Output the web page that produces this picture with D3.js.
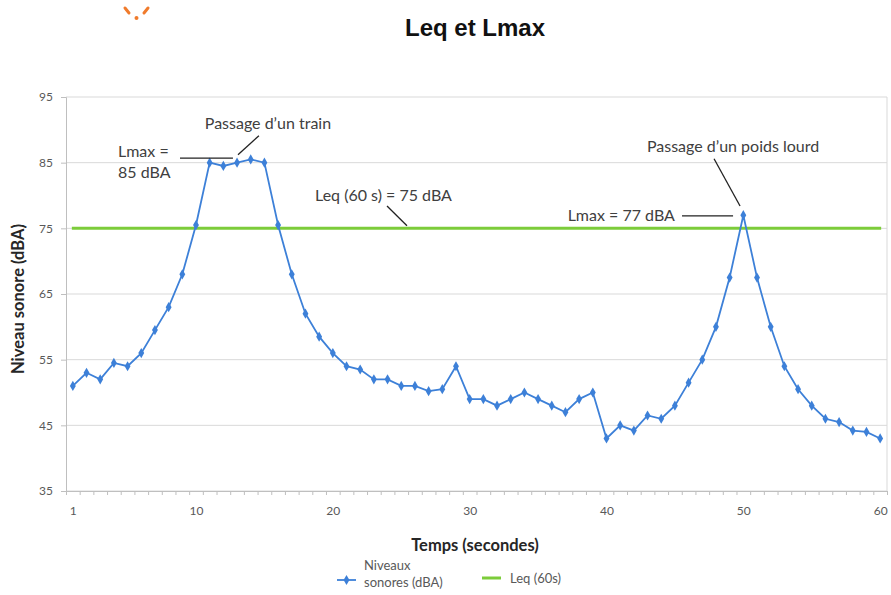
<!DOCTYPE html>
<html>
<head>
<meta charset="utf-8">
<script src="https://cdn.jsdelivr.net/npm/d3@7"></script>
<style>
  body { margin: 0; background: #fff; }
  svg { display: block; }
  .tick text { font-family: Lato, "Open Sans", sans-serif; font-size: 12px; fill: #595959; }
  .note { font-family: Lato, "Open Sans", sans-serif; font-size: 16px; fill: #404040; }
</style>
</head>
<body>
<div id="chart"></div>
<script>
// Leq et Lmax - niveaux sonores sur 60 s
const seconds = d3.range(1, 61);
const levels = [
  51, 53, 52, 54.5, 54, 56, 59.5, 63, 68, 75.5,
  85, 84.5, 85, 85.5, 85, 75.5, 68, 62, 58.5, 56,
  54, 53.5, 52, 52, 51, 51, 50.2, 50.5, 54, 49,
  49, 48, 49, 50, 49, 48, 47, 49, 50, 43,
  45, 44.2, 46.5, 46, 48, 51.5, 55, 60, 67.5, 77,
  67.5, 60, 54, 50.5, 48, 46, 45.5, 44.2, 44, 43
];
const leqValue = 75;
const yTicks = [35, 45, 55, 65, 75, 85, 95];
const xTickLabels = [1, 10, 20, 30, 40, 50, 60];

const width = 891, height = 595,
    margin = ({ top: 97, right: 4, bottom: 104, left: 66 });

const svg = d3.select("#chart")
    .append("svg")
    .attr("width", width)
    .attr("height", height);

let x = d3.scaleLinear()
    .domain([0.5, 60.5])
    .range([margin.left, width - margin.right]);

let y = d3.scaleLinear()
    .domain([35, 95])
    .range([height - margin.bottom, margin.top]);

// small orange logo top-left
svg.append("g")
    .attr("stroke", "#f07b2c")
    .attr("stroke-width", 3)
    .attr("stroke-linecap", "round")
    .selectAll("line")
    .data([[125, 8, 129, 13], [148, 8, 144, 13]])
    .join("line")
    .attr("x1", d => d[0]).attr("y1", d => d[1])
    .attr("x2", d => d[2]).attr("y2", d => d[3]);
svg.append("circle")
    .attr("cx", 136.5).attr("cy", 18).attr("r", 2)
    .attr("fill", "#f07b2c");

svg.append("text")
    .attr("x", 475)
    .attr("y", 36)
    .attr("text-anchor", "middle")
    .attr("font-family", "'Liberation Sans', Arial, sans-serif")
    .attr("font-weight", "bold")
    .attr("font-size", 24)
    .attr("fill", "#111")
    .text("Leq et Lmax");

// gridlines
svg.append("g")
    .selectAll("line")
    .data(yTicks)
    .join("line")
    .attr("x1", margin.left)
    .attr("x2", width - margin.right)
    .attr("y1", d => y(d))
    .attr("y2", d => y(d))
    .attr("stroke", "#d9d9d9");

// right border of plot area
svg.append("line")
    .attr("x1", width - margin.right).attr("x2", width - margin.right)
    .attr("y1", margin.top).attr("y2", height - margin.bottom)
    .attr("stroke", "#d9d9d9");

// y axis
const yAxis = svg.append("g")
    .attr("transform", `translate(${margin.left},0)`)
    .call(d3.axisLeft(y).tickValues(yTicks).tickSize(5).tickPadding(8));
yAxis.select(".domain").attr("stroke", "#bfbfbf");
yAxis.selectAll(".tick line").attr("stroke", "#bfbfbf");

// x axis: tick marks between categories, labels centred
const xAxis = svg.append("g")
    .attr("transform", `translate(0,${height - margin.bottom})`)
    .call(d3.axisBottom(x).tickValues(d3.range(0.5, 61, 1)).tickSize(4).tickFormat(""));
xAxis.select(".domain").attr("stroke", "#bfbfbf");
xAxis.selectAll(".tick line").attr("stroke", "#bfbfbf");

svg.append("g")
    .attr("transform", `translate(0,${height - margin.bottom})`)
    .call(d3.axisBottom(x).tickValues(xTickLabels).tickSize(0).tickPadding(15))
    .call(g => g.select(".domain").remove());

svg.append("text")
    .attr("text-anchor", "middle")
    .attr("x", 475)
    .attr("y", 551)
    .attr("font-family", "Lato, sans-serif")
    .attr("font-weight", "bold")
    .attr("font-size", 16.5)
    .attr("fill", "#262626")
    .text("Temps (secondes)");

svg.append("text")
    .attr("text-anchor", "middle")
    .attr("transform", `translate(24,${(margin.top + height - margin.bottom) / 2 + 5}) rotate(-90)`)
    .attr("font-family", "Lato, sans-serif")
    .attr("font-weight", "bold")
    .attr("font-size", 16.5)
    .attr("fill", "#262626")
    .text("Niveau sonore (dBA)");

// Leq line
svg.append("line")
    .attr("x1", x(1) - 1).attr("x2", x(60) + 1)
    .attr("y1", y(leqValue)).attr("y2", y(leqValue))
    .attr("stroke", "#7ccc3a")
    .attr("stroke-width", 3);

// niveaux sonores
const data = seconds.map((s, i) => ({ s: s, v: levels[i] }));
let line = d3.line()
    .x(d => x(d.s))
    .y(d => y(d.v));

const blue = "#3d80d8";
svg.append("path")
    .datum(data)
    .attr("d", line)
    .attr("fill", "none")
    .attr("stroke", blue)
    .attr("stroke-width", 1.8);

const diamond = d3.symbol().type(d3.symbolDiamond).size(30);
svg.append("g")
    .selectAll("path")
    .data(data)
    .join("path")
    .attr("transform", d => `translate(${x(d.s)},${y(d.v)})`)
    .attr("d", diamond)
    .attr("fill", blue);

// annotations (positions in data units)
const notes = [
  { text: "Passage d’un train", x: 15.26, y: 90.1, anchor: "middle" },
  { text: "Lmax =", x: 4.3, y: 85.9, anchor: "start" },
  { text: "85 dBA", x: 4.3, y: 82.6, anchor: "start" },
  { text: "Leq (60 s) = 75 dBA", x: 18.7, y: 79.2, anchor: "start" },
  { text: "Passage d’un poids lourd", x: 49.25, y: 86.6, anchor: "middle" },
  { text: "Lmax = 77 dBA", x: 45.0, y: 76.1, anchor: "end" }
];
const leaders = [
  [14.6, 89.1, 13.07, 86.2],
  [8.83, 85.7, 12.7, 85.7],
  [23.96, 78.4, 25.42, 75.4],
  [47.86, 85.6, 49.76, 78.4],
  [45.52, 76.9, 49.25, 76.9]
];

svg.append("g")
    .selectAll("text")
    .data(notes)
    .join("text")
    .attr("class", "note")
    .attr("x", d => x(d.x))
    .attr("y", d => y(d.y))
    .attr("text-anchor", d => d.anchor)
    .text(d => d.text);

svg.append("g")
    .selectAll("line")
    .data(leaders)
    .join("line")
    .attr("x1", d => x(d[0])).attr("y1", d => y(d[1]))
    .attr("x2", d => x(d[2])).attr("y2", d => y(d[3]))
    .attr("stroke", "#222")
    .attr("stroke-width", 1.3);

// legend
const legend = svg.append("g");
legend.append("line")
    .attr("x1", 337).attr("x2", 356).attr("y1", 580).attr("y2", 580)
    .attr("stroke", blue).attr("stroke-width", 1.8);
legend.append("path")
    .attr("transform", "translate(346.5,580)")
    .attr("d", diamond)
    .attr("fill", blue);
legend.selectAll("text")
    .data([["Niveaux", 364, 570], ["sonores (dBA)", 364, 587], ["Leq (60s)", 510, 583]])
    .join("text")
    .attr("x", d => d[1]).attr("y", d => d[2])
    .attr("font-family", "Lato, sans-serif").attr("font-size", 13).attr("fill", "#595959")
    .text(d => d[0]);
legend.append("line")
    .attr("x1", 482).attr("x2", 501).attr("y1", 578).attr("y2", 578)
    .attr("stroke", "#7ccc3a").attr("stroke-width", 3);
</script>
</body>
</html>
